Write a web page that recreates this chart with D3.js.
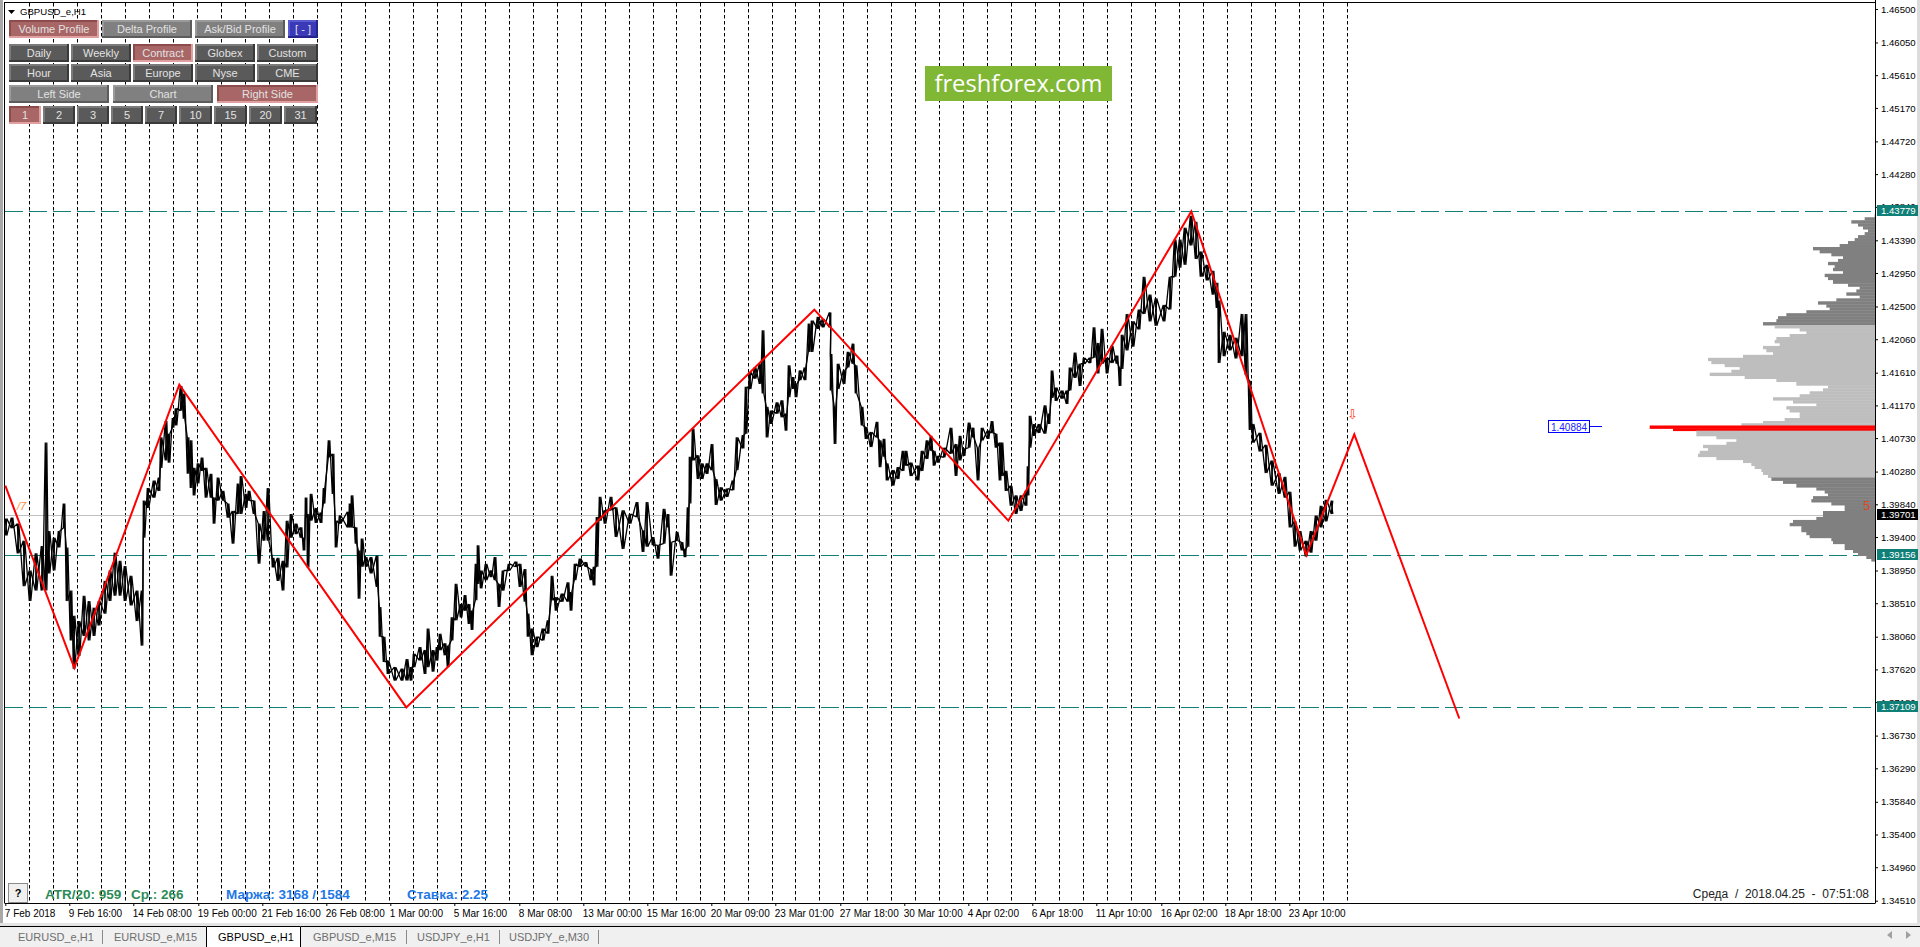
<!DOCTYPE html>
<html>
<head>
<meta charset="utf-8">
<script src="https://d3js.org/d3.v7.min.js"></script>
<style>
  html, body { margin: 0; padding: 0; background: #fff; overflow: hidden; }
  text { font-family: "Liberation Sans", Arial, sans-serif; }
</style>
</head>
<body>
<div id="graph"></div>
<script>
// GBPUSD H1, one high/low pair every few bars
const priceBars = [
  0,6,12,18,24,30,36,40,43,48,53,58,61,65,68,73,78,83,88,93,99,104,109,114,119,125,131,136,
  138,142,148,153,155,160,163,167,170,175,178,182,185,188,192,196,200,205,208,212,217,222,227,232,235,240,243,248,253,258,262,267,272,277,281,285,290,295,298,300,302,305,310,315,318,323,327,330,334,
  342,344,346,350,353,356,360,365,371,374,378,382,389,396,401,405,408,414,419,422,427,431,434,439,442,446,450,455,459,463,466,470,472,475,480,485,489,493,497,503,510,514,519,522,526,531,537,542,546,550,556,562,565,569,574,580,585,588,591,594,599,605,610,617,624,631,637,641,647,652,658,662,665,671,676,679,682,684,687,692,696,701,706,710,715,721,727,731,737,740,744,749,754,757,761,765,771,776,780,783,787,790,794,799,803,806,812,817,824,825,829,832,838,842,847,850,856,860,865,871,874,878,881,887,892,
  897,900,905,912,916,921,925,928,932,938,945,950,954,958,963,967,972,976,982,986,990,994,996,1000,1005,1010,1015,1020,1022,1024,1028,1033,1039,1043,1046,1050,1056,1061,1064,1069,1074,1078,1084,1088,1092,1096,1101,1106,1111,1114,
  1116,1121,1127,1133,1138,1144,1150,1158,1164,1169,1174,1179,1185,1190,1195,1201,1207,1211,1213,1218,1224,1230,1236,1240,1244,1247,1254,1260,1266,1273,1279,1284,1289,1294,1300,1305,1310,1315,1320,1326
];
const priceHighs = [
  1.3965,1.3966,1.3958,1.3935,1.3895,1.3918,1.3928,1.4067,1.3948,1.3939,1.3948,1.3985,1.3926,1.3868,1.3834,1.3827,1.3861,1.3854,1.3845,1.3854,1.3881,1.3895,1.3919,1.3908,1.3901,1.3888,1.3868,1.3868,
  1.3989,1.4006,1.4016,1.4020,1.4074,1.4096,1.4079,1.4100,1.4113,1.4143,1.4133,1.4074,1.4070,1.4033,1.4039,1.4047,1.4033,1.4025,1.3993,1.4020,1.4002,1.3985,1.3975,1.4012,1.4022,1.3998,1.4002,1.3989,1.3958,1.3975,1.4006,1.3912,1.3912,1.3908,1.3962,1.3971,1.3958,1.3953,1.3939,1.3993,1.3971,1.3998,1.3979,1.3973,1.4006,1.4070,1.4052,1.3962,1.3969,
  1.3974,1.3985,1.3996,1.3953,1.3922,1.3938,1.3913,1.3913,1.3915,1.3846,1.3806,1.3774,1.3765,1.3763,1.3776,1.3765,1.3783,1.3792,1.3788,1.3817,1.3788,1.3792,1.3810,1.3797,1.3794,1.3832,1.3877,1.3850,1.3862,1.3850,1.3841,1.3904,1.3929,1.3895,1.3904,1.3895,1.3913,1.3877,1.3895,1.3904,1.3907,1.3904,1.3897,1.3837,1.3817,1.3806,1.3817,1.3828,1.3888,1.3859,1.3864,1.3879,1.3866,1.3904,1.3911,1.3906,1.3897,1.3900,1.3967,1.3994,1.3976,1.3994,1.3980,1.3976,1.3971,1.3987,1.3949,1.3987,1.3940,1.3929,1.3978,1.3971,1.3933,1.3947,1.3933,1.3924,1.3980,1.4048,1.4086,1.4050,1.4039,1.4039,1.4065,1.4018,1.4007,1.4005,1.4016,1.4074,1.4077,1.4142,1.4162,1.4168,1.4173,1.4218,1.4115,1.4110,1.4121,1.4124,1.4106,1.4171,1.4155,1.4146,1.4164,1.4168,1.4227,1.4231,1.4236,1.4233,1.4242,1.4186,1.4115,1.4173,1.4164,1.4189,1.4200,1.4171,1.4115,1.4088,1.4081,1.4095,1.4070,1.4072,1.4039,1.4030,1.4034,
  1.4056,1.4056,1.4040,1.4036,1.4056,1.4070,1.4076,1.4056,1.4049,1.4060,1.4087,1.4065,1.4076,1.4059,1.4094,1.4087,1.4060,1.4087,1.4083,1.4096,1.4079,1.4067,1.4067,1.4029,1.4009,1.3996,1.3996,1.4002,1.4035,1.4103,1.4092,1.4092,1.4117,1.4106,1.4164,1.4141,1.4137,1.4137,1.4168,1.4188,1.4173,1.4181,1.4181,1.4222,1.4201,1.4220,1.4181,1.4197,1.4184,1.4168,
  1.4212,1.4240,1.4230,1.4246,1.4290,1.4266,1.4261,1.4252,1.4290,1.4340,1.4340,1.4356,1.4372,1.4364,1.4324,1.4306,1.4298,1.4282,1.4258,1.4216,1.4212,1.4208,1.4240,1.4240,1.4150,1.4092,1.4080,1.4064,1.4043,1.4026,1.4021,1.4001,1.3961,1.3948,1.3935,1.3948,1.3969,1.3982,1.3990,1.3989
];
const priceLows = [
  1.3942,1.3952,1.3918,1.3874,1.3854,1.3868,1.3868,1.3868,1.3891,1.3895,1.3926,1.3952,1.3854,1.3801,1.3763,1.3780,1.3807,1.3801,1.3807,1.3821,1.3837,1.3854,1.3861,1.3861,1.3854,1.3848,1.3827,1.3794,
  1.3939,1.3979,1.3993,1.4002,1.4033,1.4043,1.4040,1.4087,1.4090,1.4110,1.4099,1.4025,1.4006,1.3996,1.4012,1.4029,1.3993,1.3993,1.3958,1.3989,1.3989,1.3966,1.3931,1.3971,1.3971,1.3979,1.3989,1.3971,1.3904,1.3935,1.3935,1.3899,1.3881,1.3868,1.3899,1.3939,1.3944,1.3939,1.3922,1.3966,1.3899,1.3962,1.3959,1.3959,1.3985,1.4047,1.3998,1.3926,1.3958,
  1.3953,1.3953,1.3953,1.3931,1.3857,1.3900,1.3900,1.3891,1.3873,1.3806,1.3772,1.3756,1.3747,1.3747,1.3747,1.3747,1.3765,1.3774,1.3756,1.3765,1.3759,1.3774,1.3788,1.3781,1.3765,1.3801,1.3828,1.3832,1.3841,1.3823,1.3815,1.3855,1.3877,1.3871,1.3882,1.3886,1.3882,1.3846,1.3868,1.3895,1.3900,1.3873,1.3853,1.3806,1.3781,1.3792,1.3801,1.3810,1.3855,1.3841,1.3853,1.3853,1.3841,1.3882,1.3900,1.3900,1.3882,1.3875,1.3900,1.3962,1.3958,1.3976,1.3940,1.3924,1.3958,1.3967,1.3920,1.3927,1.3929,1.3911,1.3931,1.3953,1.3888,1.3935,1.3922,1.3913,1.3927,1.3985,1.4043,1.4018,1.4018,1.4025,1.4030,1.3983,1.3989,1.3994,1.4003,1.4030,1.4059,1.4079,1.4139,1.4153,1.4146,1.4133,1.4074,1.4092,1.4106,1.4101,1.4083,1.4128,1.4139,1.4128,1.4151,1.4151,1.4189,1.4189,1.4220,1.4222,1.4222,1.4137,1.4065,1.4139,1.4146,1.4168,1.4173,1.4133,1.4090,1.4072,1.4061,1.4074,1.4034,1.4048,1.4016,1.4009,1.4018,
  1.4029,1.4036,1.4022,1.4016,1.4029,1.4045,1.4056,1.4036,1.4040,1.4047,1.4052,1.4022,1.4043,1.4049,1.4060,1.4074,1.4016,1.4070,1.4072,1.4080,1.4060,1.4016,1.4022,1.4002,1.3982,1.3971,1.3975,1.3982,1.3996,1.4060,1.4076,1.4080,1.4079,1.4092,1.4127,1.4123,1.4126,1.4119,1.4137,1.4154,1.4143,1.4173,1.4174,1.4181,1.4160,1.4173,1.4160,1.4174,1.4173,1.4143,
  1.4166,1.4191,1.4196,1.4219,1.4240,1.4230,1.4224,1.4230,1.4246,1.4290,1.4302,1.4306,1.4332,1.4314,1.4290,1.4285,1.4266,1.4248,1.4174,1.4183,1.4191,1.4180,1.4183,1.4158,1.4084,1.4067,1.4055,1.4026,1.4009,1.3998,1.3993,1.3953,1.3927,1.3922,1.3914,1.3919,1.3935,1.3953,1.3961,1.3971
];

// red zigzag
const zigBars = [0,69,174,401,809,1003,1186,1301,1349,1454];
const zigPrices = [1.4009,1.3764,1.4145,1.37109,1.42457,1.3962,1.43779,1.39156,1.4078,1.3696];

// volume profile on the right side, top level down
const profilePrices = [
  1.4374,1.4370,1.4366,1.4362,1.4358,1.4354,1.4350,1.4346,1.4342,1.4338,1.4334,1.4330,1.4326,1.4322,1.4318,1.4314,1.4310,1.4306,1.4302,1.4298,1.4294,1.4290,1.4286,1.4281,1.4277,1.4273,1.4269,1.4265,1.4261,1.4257,1.4253,1.4249,1.4245,1.4241,1.4237,1.4233,1.4229,
  1.4225,1.4221,1.4217,1.4213,1.4209,1.4205,1.4201,1.4197,1.4193,1.4189,1.4185,1.4181,1.4177,1.4173,1.4169,1.4165,1.4161,1.4157,1.4153,1.4149,1.4144,1.4140,1.4136,1.4132,1.4128,1.4124,1.4120,1.4116,1.4112,1.4108,1.4104,1.4100,1.4096,1.4093,
  1.4090,1.4086,1.4083,1.4076,1.4072,1.4068,1.4064,1.4060,1.4056,1.4052,1.4048,1.4044,1.4040,1.4036,1.4032,1.4028,1.4024,
  1.4020,1.4016,1.4012,1.4007,1.4003,1.3999,1.3995,1.3991,1.3987,1.3983,1.3979,1.3975,1.3971,1.3967,1.3963,1.3959,1.3955,1.3951,1.3947,1.3943,1.3939,1.3935,1.3931,1.3927,1.3923,1.3919,1.3915,1.3911
];
const profileVolumes = [
  1,31,71,51,36,21,31,51,61,81,106,186,166,131,96,111,141,121,126,96,151,141,126,81,46,56,86,46,116,171,146,136,206,266,291,296,336,
  301,226,206,256,296,301,286,336,326,306,396,501,491,451,406,431,496,391,296,236,141,156,196,226,306,246,176,266,256,226,226,271,336,401,
  676,606,536,476,416,446,516,501,526,531,476,396,371,361,341,336,321,
  311,276,236,176,151,141,186,191,131,91,91,156,156,176,246,256,221,221,206,196,131,126,91,91,66,51,26,11
];
const valueAreaHigh = 1.4227;
const valueAreaLow = 1.4022;
const pocLevels = [1.4090, 1.4086];
const pocLabel = 1.40884;

// levels
const teal_levels = [1.43779, 1.39156, 1.37109];
const current_price = 1.39701;

// axes
const yTicks = [1.46500,1.46050,1.45610,1.45170,1.44720,1.44280,1.43840,1.43390,1.42950,1.42500,1.42060,1.41610,1.41170,1.40730,1.40280,1.39840,1.39400,1.38950,1.38510,1.38060,1.37620,1.37180,1.36730,1.36290,1.35840,1.35400,1.34960,1.34510];
const xTickBars = [0,64,128,193,257,321,385,449,514,578,642,706,770,835,899,963,1027,1091,1156,1220,1284];
const xTickLabels = ["7 Feb 2018","9 Feb 16:00","14 Feb 08:00","19 Feb 00:00","21 Feb 16:00","26 Feb 08:00","1 Mar 00:00","5 Mar 16:00","8 Mar 08:00","13 Mar 00:00","15 Mar 16:00","20 Mar 09:00","23 Mar 01:00","27 Mar 18:00","30 Mar 10:00","4 Apr 02:00","6 Apr 18:00","11 Apr 10:00","16 Apr 02:00","18 Apr 18:00","23 Apr 10:00"];

// dashed day separators
const dayBars = [24,48,72,96,120,144,168,192,216,240,264,288,312,336,360,384,408,432,456,480,504,528,552,576,600,624,648,671,695,719,743,767,790,814,838,862,886,910,934,958,982,1006,1030,1054,1078,1102,1126,1150,1174,1198,1222,1246,1270,1294,1318,1342];

const tabLabels = ["EURUSD_e,H1","EURUSD_e,M15","GBPUSD_e,H1","GBPUSD_e,M15","USDJPY_e,H1","USDJPY_e,M30"];

var width = 1920, height = 947;
var plotLeft = 5, plotRight = 1875, plotTop = 3, plotBottom = 903;

var x = d3.scaleLinear().domain([0, 1870]).range([5.3, 1875.3]);
var y = d3.scaleLinear().domain([1.34510, 1.43390]).range([900.7, 240.3]);
var vol = d3.scaleLinear().domain([0, 676]).range([0, 225.3]);

var svg = d3.select("#graph").append("svg")
  .attr("width", width).attr("height", height)
  .style("display", "block");

// window chrome
svg.append("rect").attr("width", width).attr("height", height).attr("fill", "#fff");
svg.append("rect").attr("x", 0).attr("y", 0).attr("width", 3).attr("height", 925).attr("fill", "#a8a8a8");
svg.append("rect").attr("x", 1917).attr("y", 0).attr("width", 3).attr("height", 925).attr("fill", "#dcdcdc");
svg.append("rect").attr("x", 0).attr("y", 923).attr("width", width).attr("height", 3).attr("fill", "#e4e4e4");
svg.append("rect").attr("x", 0).attr("y", 926).attr("width", width).attr("height", 21).attr("fill", "#f0f0f0");
svg.append("line").attr("x1", 0).attr("x2", width).attr("y1", 926.5).attr("y2", 926.5).attr("stroke", "#000");
svg.append("line").attr("x1", 4.5).attr("x2", 4.5).attr("y1", 2).attr("y2", plotBottom).attr("stroke", "#000");
svg.append("line").attr("x1", 4.5).attr("x2", plotRight).attr("y1", 2.5).attr("y2", 2.5).attr("stroke", "#000");

// day separators
svg.append("g").selectAll("line").data(dayBars).enter().append("line")
  .attr("x1", d => Math.round(x(d)) + 0.5).attr("x2", d => Math.round(x(d)) + 0.5)
  .attr("y1", plotTop).attr("y2", plotBottom)
  .attr("stroke", "#000").attr("stroke-dasharray", "3.5 2.5");

// horizontal levels
svg.append("line").attr("x1", plotLeft).attr("x2", plotRight)
  .attr("y1", Math.round(y(current_price)) + 0.5).attr("y2", Math.round(y(current_price)) + 0.5)
  .attr("stroke", "#c0c0c0");
svg.append("g").selectAll("line").data(teal_levels).enter().append("line")
  .attr("x1", plotLeft).attr("x2", plotRight)
  .attr("y1", d => Math.round(y(d)) + 0.5).attr("y2", d => Math.round(y(d)) + 0.5)
  .attr("stroke", "#0f7f78").attr("stroke-dasharray", "18 6");

// volume profile, each level runs down to the next one
svg.append("g").selectAll("rect").data(profileVolumes).enter().append("rect")
  .attr("x", d => plotRight - vol(d))
  .attr("y", (d, i) => y(profilePrices[i]))
  .attr("width", d => vol(d))
  .attr("height", (d, i) => i + 1 < profilePrices.length ? y(profilePrices[i + 1]) - y(profilePrices[i]) + 0.4 : 3)
  .attr("fill", (d, i) => {
    var p = profilePrices[i];
    if (pocLevels.includes(p)) return "#ff0000";
    if (p <= valueAreaHigh && p >= valueAreaLow) return "#bebebe";
    return "#808080";
  });

// price bars: hi-lo sticks tied together by a saw line, so it keeps the jagged look
var sawUp = [], sawDown = [];
priceBars.forEach((b, i) => {
  sawUp.push([x(b), y(priceHighs[i])], [x(b) + 1.5, y(priceLows[i])]);
  sawDown.push([x(b), y(priceLows[i])], [x(b) + 1.5, y(priceHighs[i])]);
});
var sawLine = d3.line();
svg.append("path").attr("d", sawLine(sawUp))
  .attr("fill", "none").attr("stroke", "#000").attr("stroke-width", 1.3).attr("stroke-linejoin", "bevel");
svg.append("path").attr("d", sawLine(sawDown))
  .attr("fill", "none").attr("stroke", "#000").attr("stroke-width", 1.3).attr("stroke-linejoin", "bevel");

// zigzag
var zigLine = d3.line().x((d, i) => x(zigBars[i])).y(d => y(d));
svg.append("path").datum(zigPrices)
  .attr("d", zigLine)
  .attr("fill", "none").attr("stroke", "#ff0000").attr("stroke-width", 2);

// wave marks
svg.append("text").attr("x", 17).attr("y", 510).text("/7")
  .attr("font-size", 11).attr("font-style", "italic").attr("fill", "#ff8a3c");
svg.append("text").attr("x", 1352.5).attr("y", 419).text("⇩")
  .attr("text-anchor", "middle").attr("font-size", 13).attr("fill", "#ff3a1c")
  .style("font-family", "'DejaVu Sans'");
svg.append("text").attr("x", 1863).attr("y", 510).text("5")
  .attr("font-size", 13).attr("fill", "#d9481c");

// POC price box
svg.append("line").attr("x1", 1590).attr("x2", 1602).attr("y1", 426.5).attr("y2", 426.5).attr("stroke", "#0000ff");
svg.append("rect").attr("x", 1548.5).attr("y", 420.5).attr("width", 41).attr("height", 12)
  .attr("fill", "#fff").attr("stroke", "#0000ff");
svg.append("text").attr("x", 1569).attr("y", 430.5).text(pocLabel.toFixed(5))
  .attr("text-anchor", "middle").attr("font-size", 10).attr("fill", "#2020ff");

// axes
var yAxis = d3.axisRight(y).tickValues(yTicks).tickFormat(d3.format(".5f")).tickSize(3).tickPadding(3);
var yG = svg.append("g").attr("transform", "translate(" + plotRight + ",0)").call(yAxis);
yG.select(".domain").remove();
yG.selectAll("text").attr("font-size", 9.6).attr("fill", "#000").style("font-family", "'Liberation Sans'");
svg.append("line").attr("x1", plotRight + 0.5).attr("x2", plotRight + 0.5).attr("y1", 0).attr("y2", plotBottom + 0.5).attr("stroke", "#000");

var xAxis = d3.axisBottom(x).tickValues(xTickBars).tickFormat((d, i) => xTickLabels[i]).tickSize(3).tickPadding(4);
var xG = svg.append("g").attr("transform", "translate(0," + plotBottom + ")").call(xAxis);
xG.select(".domain").remove();
xG.selectAll("text").attr("text-anchor", "start").attr("dx", -1).attr("font-size", 10).attr("fill", "#000").style("font-family", "'Liberation Sans'");
svg.append("line").attr("x1", 4.5).attr("x2", plotRight).attr("y1", plotBottom + 0.5).attr("y2", plotBottom + 0.5).attr("stroke", "#000");

// price flags on the axis
var flags = teal_levels.map(d => ({p: d, fill: "#0f7f78"})).concat([{p: current_price, fill: "#000"}]);
var flagG = svg.append("g").selectAll("g").data(flags).enter().append("g")
  .attr("transform", d => "translate(1877," + Math.round(y(d.p)) + ")");
flagG.append("rect").attr("x", 0).attr("y", -6).attr("width", 41).attr("height", 11).attr("fill", d => d.fill);
flagG.append("text").attr("x", 4).attr("y", 3.4).text(d => d.p.toFixed(5))
  .attr("font-size", 9.6).attr("fill", "#fff");

// panel buttons
var grey = {fill: "#808080", top: "#9a9a9a", bottom: "#5c5c5c"};
var dark = {fill: "#5a5a5a", top: "#7a7a7a", bottom: "#3a3a3a"};
var red = {fill: "#a86666", top: "#8c4c4c", bottom: "#e0a0a0"};
var blue = {fill: "#3a3ab8", top: "#5a5ad0", bottom: "#24248a"};
var buttons = [
  {t: "Volume Profile", x: 9, y: 20, w: 90, h: 18, s: red},
  {t: "Delta Profile", x: 102, y: 20, w: 90, h: 18, s: grey},
  {t: "Ask/Bid Profile", x: 195, y: 20, w: 90, h: 18, s: grey},
  {t: "[ - ]", x: 288, y: 20, w: 30, h: 18, s: blue},
  {t: "Daily", x: 9, y: 44, w: 60, h: 18, s: dark},
  {t: "Weekly", x: 71, y: 44, w: 60, h: 18, s: dark},
  {t: "Contract", x: 133, y: 44, w: 60, h: 18, s: red},
  {t: "Globex", x: 195, y: 44, w: 60, h: 18, s: dark},
  {t: "Custom", x: 257, y: 44, w: 61, h: 18, s: dark},
  {t: "Hour", x: 9, y: 64, w: 60, h: 18, s: dark},
  {t: "Asia", x: 71, y: 64, w: 60, h: 18, s: dark},
  {t: "Europe", x: 133, y: 64, w: 60, h: 18, s: dark},
  {t: "Nyse", x: 195, y: 64, w: 60, h: 18, s: dark},
  {t: "CME", x: 257, y: 64, w: 61, h: 18, s: dark},
  {t: "Left Side", x: 9, y: 85, w: 100, h: 18, s: grey},
  {t: "Chart", x: 113, y: 85, w: 100, h: 18, s: grey},
  {t: "Right Side", x: 217, y: 85, w: 101, h: 18, s: red},
  {t: "1", x: 9, y: 106, w: 32, h: 18, s: red},
  {t: "2", x: 43, y: 106, w: 32, h: 18, s: dark},
  {t: "3", x: 77, y: 106, w: 32, h: 18, s: dark},
  {t: "5", x: 111, y: 106, w: 32, h: 18, s: dark},
  {t: "7", x: 145, y: 106, w: 32, h: 18, s: dark},
  {t: "10", x: 179, y: 106, w: 33, h: 18, s: dark},
  {t: "15", x: 214, y: 106, w: 33, h: 18, s: dark},
  {t: "20", x: 249, y: 106, w: 33, h: 18, s: dark},
  {t: "31", x: 284, y: 106, w: 33, h: 18, s: dark}
];
var btn = svg.append("g").selectAll("g").data(buttons).enter().append("g")
  .attr("transform", d => "translate(" + d.x + "," + d.y + ")");
btn.append("rect").attr("width", d => d.w).attr("height", d => d.h).attr("fill", d => d.s.bottom);
btn.append("rect").attr("width", d => d.w - 2).attr("height", d => d.h - 2).attr("fill", d => d.s.top);
btn.append("rect").attr("x", 2).attr("y", 2).attr("width", d => d.w - 4).attr("height", d => d.h - 4).attr("fill", d => d.s.fill);
btn.append("text").attr("x", d => d.w / 2).attr("y", d => d.h / 2 + 4).text(d => d.t)
  .attr("text-anchor", "middle").attr("font-size", 11).attr("fill", "#e2e2e2");

// symbol caption
svg.append("path").attr("d", "M8,10L15,10L11.5,14Z").attr("fill", "#000");
svg.append("text").attr("x", 20).attr("y", 15).text("GBPUSD_e,H1").attr("font-size", 9.6).attr("fill", "#000");

// logo
svg.append("rect").attr("x", 925).attr("y", 66).attr("width", 187).attr("height", 35).attr("fill", "#80b735");
svg.append("text").attr("x", 1018.5).attr("y", 92).text("freshforex.com")
  .attr("text-anchor", "middle").attr("font-size", 23.7).attr("fill", "#fff")
  .style("font-family", "'Open Sans'");

// info line
svg.append("rect").attr("x", 8.5).attr("y", 883.5).attr("width", 19).attr("height", 19)
  .attr("fill", "#f0f0f0").attr("stroke", "#8a8a8a");
svg.append("text").attr("x", 18).attr("y", 897).text("?").attr("text-anchor", "middle")
  .attr("font-size", 11).attr("font-weight", "bold").attr("fill", "#000");
var infoTexts = [
  {t: "ATR/20: 959", x: 45, c: "#2e8b57"},
  {t: "Ср.: 266", x: 131, c: "#2e8b57"},
  {t: "Маржа: 3168 / 1584", x: 226, c: "#1e78e6"},
  {t: "Ставка: 2.25", x: 407, c: "#1e78e6"}
];
svg.append("g").selectAll("text").data(infoTexts).enter().append("text")
  .attr("x", d => d.x).attr("y", 899).text(d => d.t)
  .attr("font-size", 13.5).attr("font-weight", "bold").attr("fill", d => d.c);
svg.append("text").attr("x", 1869).attr("y", 898).text("Среда  /  2018.04.25  -  07:51:08")
  .attr("text-anchor", "end").attr("font-size", 12).attr("fill", "#222").attr("xml:space", "preserve")
  .style("white-space", "pre");

// tab bar
var tabX = [18, 114, 218, 313, 417, 509];
svg.append("rect").attr("x", 206).attr("y", 926).attr("width", 95).attr("height", 21).attr("fill", "#fff");
svg.append("path").attr("d", "M206.5,947V926.5H300.5V947").attr("fill", "none").attr("stroke", "#000");
svg.append("g").selectAll("text").data(tabLabels).enter().append("text")
  .attr("x", (d, i) => tabX[i]).attr("y", 941).text(d => d)
  .attr("font-size", 11).attr("fill", (d, i) => i == 2 ? "#000" : "#6e6e6e");
svg.append("g").selectAll("line").data([102, 406, 499, 598]).enter().append("line")
  .attr("x1", d => d + 0.5).attr("x2", d => d + 0.5).attr("y1", 930).attr("y2", 944).attr("stroke", "#8a8a8a");
svg.append("path").attr("d", "M1892,931L1887,935L1892,939Z").attr("fill", "#a0a0a0");
svg.append("path").attr("d", "M1906,931L1911,935L1906,939Z").attr("fill", "#a0a0a0");
</script>
</body>
</html>
